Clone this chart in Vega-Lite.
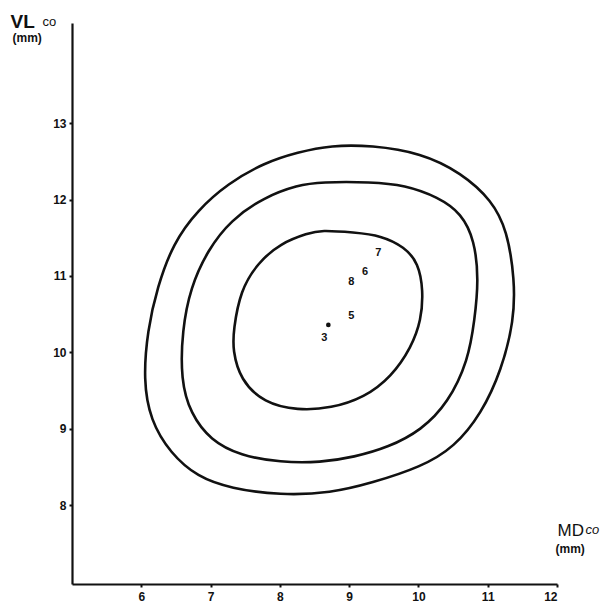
{
  "$schema": "https://vega.github.io/schema/vega-lite/v6.json",
  "autosize": {"type": "none"},
  "padding": {"left": 72, "top": 23, "right": 59, "bottom": 19},
  "width": 485,
  "height": 561,
  "background": "white",
  "config": {
    "view": {"stroke": null},
    "axis": {"grid": false, "labelFont": "Liberation Sans", "titleFont": "Liberation Sans", "titleColor": "#111", "labelColor": "#111"}
  },
  "datasets": {
    "contours": [
      {"ring": "outer", "seq": 1, "md": 6.09, "vl": 10.29},
      {"ring": "outer", "seq": 2, "md": 6.03, "vl": 9.64},
      {"ring": "outer", "seq": 3, "md": 6.13, "vl": 9.11},
      {"ring": "outer", "seq": 4, "md": 6.42, "vl": 8.68},
      {"ring": "outer", "seq": 5, "md": 6.81, "vl": 8.37},
      {"ring": "outer", "seq": 6, "md": 7.29, "vl": 8.22},
      {"ring": "outer", "seq": 7, "md": 8.01, "vl": 8.13},
      {"ring": "outer", "seq": 8, "md": 8.74, "vl": 8.16},
      {"ring": "outer", "seq": 9, "md": 9.32, "vl": 8.29},
      {"ring": "outer", "seq": 10, "md": 10.04, "vl": 8.5},
      {"ring": "outer", "seq": 11, "md": 10.52, "vl": 8.76},
      {"ring": "outer", "seq": 12, "md": 10.91, "vl": 9.2},
      {"ring": "outer", "seq": 13, "md": 11.2, "vl": 9.77},
      {"ring": "outer", "seq": 14, "md": 11.38, "vl": 10.42},
      {"ring": "outer", "seq": 15, "md": 11.39, "vl": 10.95},
      {"ring": "outer", "seq": 16, "md": 11.28, "vl": 11.6},
      {"ring": "outer", "seq": 17, "md": 11.06, "vl": 11.99},
      {"ring": "outer", "seq": 18, "md": 10.62, "vl": 12.35},
      {"ring": "outer", "seq": 19, "md": 10.04, "vl": 12.61},
      {"ring": "outer", "seq": 20, "md": 9.32, "vl": 12.71},
      {"ring": "outer", "seq": 21, "md": 8.74, "vl": 12.71},
      {"ring": "outer", "seq": 22, "md": 8.26, "vl": 12.62},
      {"ring": "outer", "seq": 23, "md": 7.77, "vl": 12.48},
      {"ring": "outer", "seq": 24, "md": 7.25, "vl": 12.21},
      {"ring": "outer", "seq": 25, "md": 6.81, "vl": 11.86},
      {"ring": "outer", "seq": 26, "md": 6.46, "vl": 11.43},
      {"ring": "outer", "seq": 27, "md": 6.23, "vl": 10.85},
      {"ring": "middle", "seq": 1, "md": 6.59, "vl": 10.29},
      {"ring": "middle", "seq": 2, "md": 6.57, "vl": 9.64},
      {"ring": "middle", "seq": 3, "md": 6.71, "vl": 9.2},
      {"ring": "middle", "seq": 4, "md": 7.0, "vl": 8.85},
      {"ring": "middle", "seq": 5, "md": 7.43, "vl": 8.65},
      {"ring": "middle", "seq": 6, "md": 8.01, "vl": 8.56},
      {"ring": "middle", "seq": 7, "md": 8.59, "vl": 8.56},
      {"ring": "middle", "seq": 8, "md": 9.07, "vl": 8.63},
      {"ring": "middle", "seq": 9, "md": 9.57, "vl": 8.76},
      {"ring": "middle", "seq": 10, "md": 10.04, "vl": 8.98},
      {"ring": "middle", "seq": 11, "md": 10.43, "vl": 9.34},
      {"ring": "middle", "seq": 12, "md": 10.72, "vl": 9.9},
      {"ring": "middle", "seq": 13, "md": 10.81, "vl": 10.42},
      {"ring": "middle", "seq": 14, "md": 10.87, "vl": 10.95},
      {"ring": "middle", "seq": 15, "md": 10.81, "vl": 11.47},
      {"ring": "middle", "seq": 16, "md": 10.62, "vl": 11.82},
      {"ring": "middle", "seq": 17, "md": 10.29, "vl": 12.03},
      {"ring": "middle", "seq": 18, "md": 9.8, "vl": 12.19},
      {"ring": "middle", "seq": 19, "md": 9.32, "vl": 12.23},
      {"ring": "middle", "seq": 20, "md": 8.59, "vl": 12.23},
      {"ring": "middle", "seq": 21, "md": 8.26, "vl": 12.19},
      {"ring": "middle", "seq": 22, "md": 7.77, "vl": 12.03},
      {"ring": "middle", "seq": 23, "md": 7.29, "vl": 11.73},
      {"ring": "middle", "seq": 24, "md": 6.96, "vl": 11.34},
      {"ring": "middle", "seq": 25, "md": 6.71, "vl": 10.85},
      {"ring": "inner", "seq": 1, "md": 7.33, "vl": 10.29},
      {"ring": "inner", "seq": 2, "md": 7.32, "vl": 10.03},
      {"ring": "inner", "seq": 3, "md": 7.43, "vl": 9.64},
      {"ring": "inner", "seq": 4, "md": 7.77, "vl": 9.34},
      {"ring": "inner", "seq": 5, "md": 8.26, "vl": 9.24},
      {"ring": "inner", "seq": 6, "md": 8.74, "vl": 9.27},
      {"ring": "inner", "seq": 7, "md": 9.22, "vl": 9.41},
      {"ring": "inner", "seq": 8, "md": 9.61, "vl": 9.68},
      {"ring": "inner", "seq": 9, "md": 9.9, "vl": 10.07},
      {"ring": "inner", "seq": 10, "md": 10.04, "vl": 10.42},
      {"ring": "inner", "seq": 11, "md": 10.07, "vl": 10.81},
      {"ring": "inner", "seq": 12, "md": 10.0, "vl": 11.17},
      {"ring": "inner", "seq": 13, "md": 9.8, "vl": 11.38},
      {"ring": "inner", "seq": 14, "md": 9.46, "vl": 11.53},
      {"ring": "inner", "seq": 15, "md": 9.07, "vl": 11.57},
      {"ring": "inner", "seq": 16, "md": 8.59, "vl": 11.6},
      {"ring": "inner", "seq": 17, "md": 8.41, "vl": 11.56},
      {"ring": "inner", "seq": 18, "md": 8.01, "vl": 11.43},
      {"ring": "inner", "seq": 19, "md": 7.68, "vl": 11.17},
      {"ring": "inner", "seq": 20, "md": 7.43, "vl": 10.81}
    ],
    "dots": [
      {"obs": "3", "md": 8.7, "vl": 10.36}
    ],
    "labels": [
      {"obs": "3", "md": 8.64, "vl": 10.19},
      {"obs": "5", "md": 9.03, "vl": 10.47},
      {"obs": "8", "md": 9.03, "vl": 10.92},
      {"obs": "6", "md": 9.23, "vl": 11.05},
      {"obs": "7", "md": 9.42, "vl": 11.3}
    ]
  },
  "resolve": {"axis": {"x": "independent", "y": "independent"}},
  "layer": [
    {
      "data": {"name": "contours"},
      "mark": {"type": "line", "interpolate": "basis-closed", "stroke": "#111", "strokeWidth": 2.6},
      "encoding": {
        "x": {
          "field": "md", "type": "quantitative",
          "scale": {"domain": [5, 12], "nice": false, "zero": false},
          "axis": {
            "orient": "bottom", "values": [6, 7, 8, 9, 10, 11, 12],
            "domainColor": "#111", "domainWidth": 2.2, "tickColor": "#111", "tickWidth": 2, "tickSize": 3,
            "labelFontSize": 12, "labelFontWeight": "bold", "labelPadding": 4,
            "title": "MD", "titleFontSize": 17, "titleFontWeight": "normal",
            "titleX": 485, "titleY": -49, "titleAlign": "left", "titleBaseline": "alphabetic", "titleAnchor": null
          }
        },
        "y": {
          "field": "vl", "type": "quantitative",
          "scale": {"domain": [6.97, 14.31], "nice": false, "zero": false},
          "axis": {
            "orient": "left", "values": [8, 9, 10, 11, 12, 13],
            "domainColor": "#111", "domainWidth": 2.2, "tickColor": "#111", "tickWidth": 2, "tickSize": 3,
            "labelFontSize": 12, "labelFontWeight": "bold", "labelPadding": 3,
            "title": "VL", "titleFontSize": 19, "titleFontWeight": "bold", "titleAngle": 0,
            "titleX": -62, "titleY": 4, "titleAlign": "left", "titleBaseline": "alphabetic", "titleAnchor": null
          }
        },
        "detail": {"field": "ring", "type": "nominal"},
        "order": {"field": "seq", "type": "quantitative"}
      }
    },
    {
      "data": {"name": "dots"},
      "mark": {"type": "circle", "color": "#111", "opacity": 1, "size": 22},
      "encoding": {
        "x": {
          "field": "md", "type": "quantitative",
          "scale": {"domain": [5, 12], "nice": false, "zero": false},
          "axis": {
            "orient": "bottom", "domain": false, "ticks": false, "labels": false,
            "title": "co", "titleFontSize": 13, "titleFontWeight": "normal", "titleFontStyle": "italic",
            "titleX": 513, "titleY": -51, "titleAlign": "left", "titleBaseline": "alphabetic", "titleAnchor": null
          }
        },
        "y": {
          "field": "vl", "type": "quantitative",
          "scale": {"domain": [6.97, 14.31], "nice": false, "zero": false},
          "axis": {
            "orient": "left", "domain": false, "ticks": false, "labels": false,
            "title": "co", "titleFontSize": 13, "titleFontWeight": "normal", "titleAngle": 0,
            "titleX": -30, "titleY": 2, "titleAlign": "left", "titleBaseline": "alphabetic", "titleAnchor": null
          }
        }
      }
    },
    {
      "data": {"name": "labels"},
      "mark": {"type": "text", "font": "Liberation Sans", "fontSize": 11, "fontWeight": "bold", "color": "#111", "align": "center", "baseline": "middle"},
      "encoding": {
        "x": {
          "field": "md", "type": "quantitative",
          "scale": {"domain": [5, 12], "nice": false, "zero": false},
          "axis": {
            "orient": "bottom", "domain": false, "ticks": false, "labels": false,
            "title": "(mm)", "titleFontSize": 12, "titleFontWeight": "bold",
            "titleX": 483, "titleY": -32, "titleAlign": "left", "titleBaseline": "alphabetic", "titleAnchor": null
          }
        },
        "y": {
          "field": "vl", "type": "quantitative",
          "scale": {"domain": [6.97, 14.31], "nice": false, "zero": false},
          "axis": {
            "orient": "left", "domain": false, "ticks": false, "labels": false,
            "title": "(mm)", "titleFontSize": 12, "titleFontWeight": "bold", "titleAngle": 0,
            "titleX": -60, "titleY": 18, "titleAlign": "left", "titleBaseline": "alphabetic", "titleAnchor": null
          }
        },
        "text": {"field": "obs", "type": "nominal"}
      }
    }
  ]
}
